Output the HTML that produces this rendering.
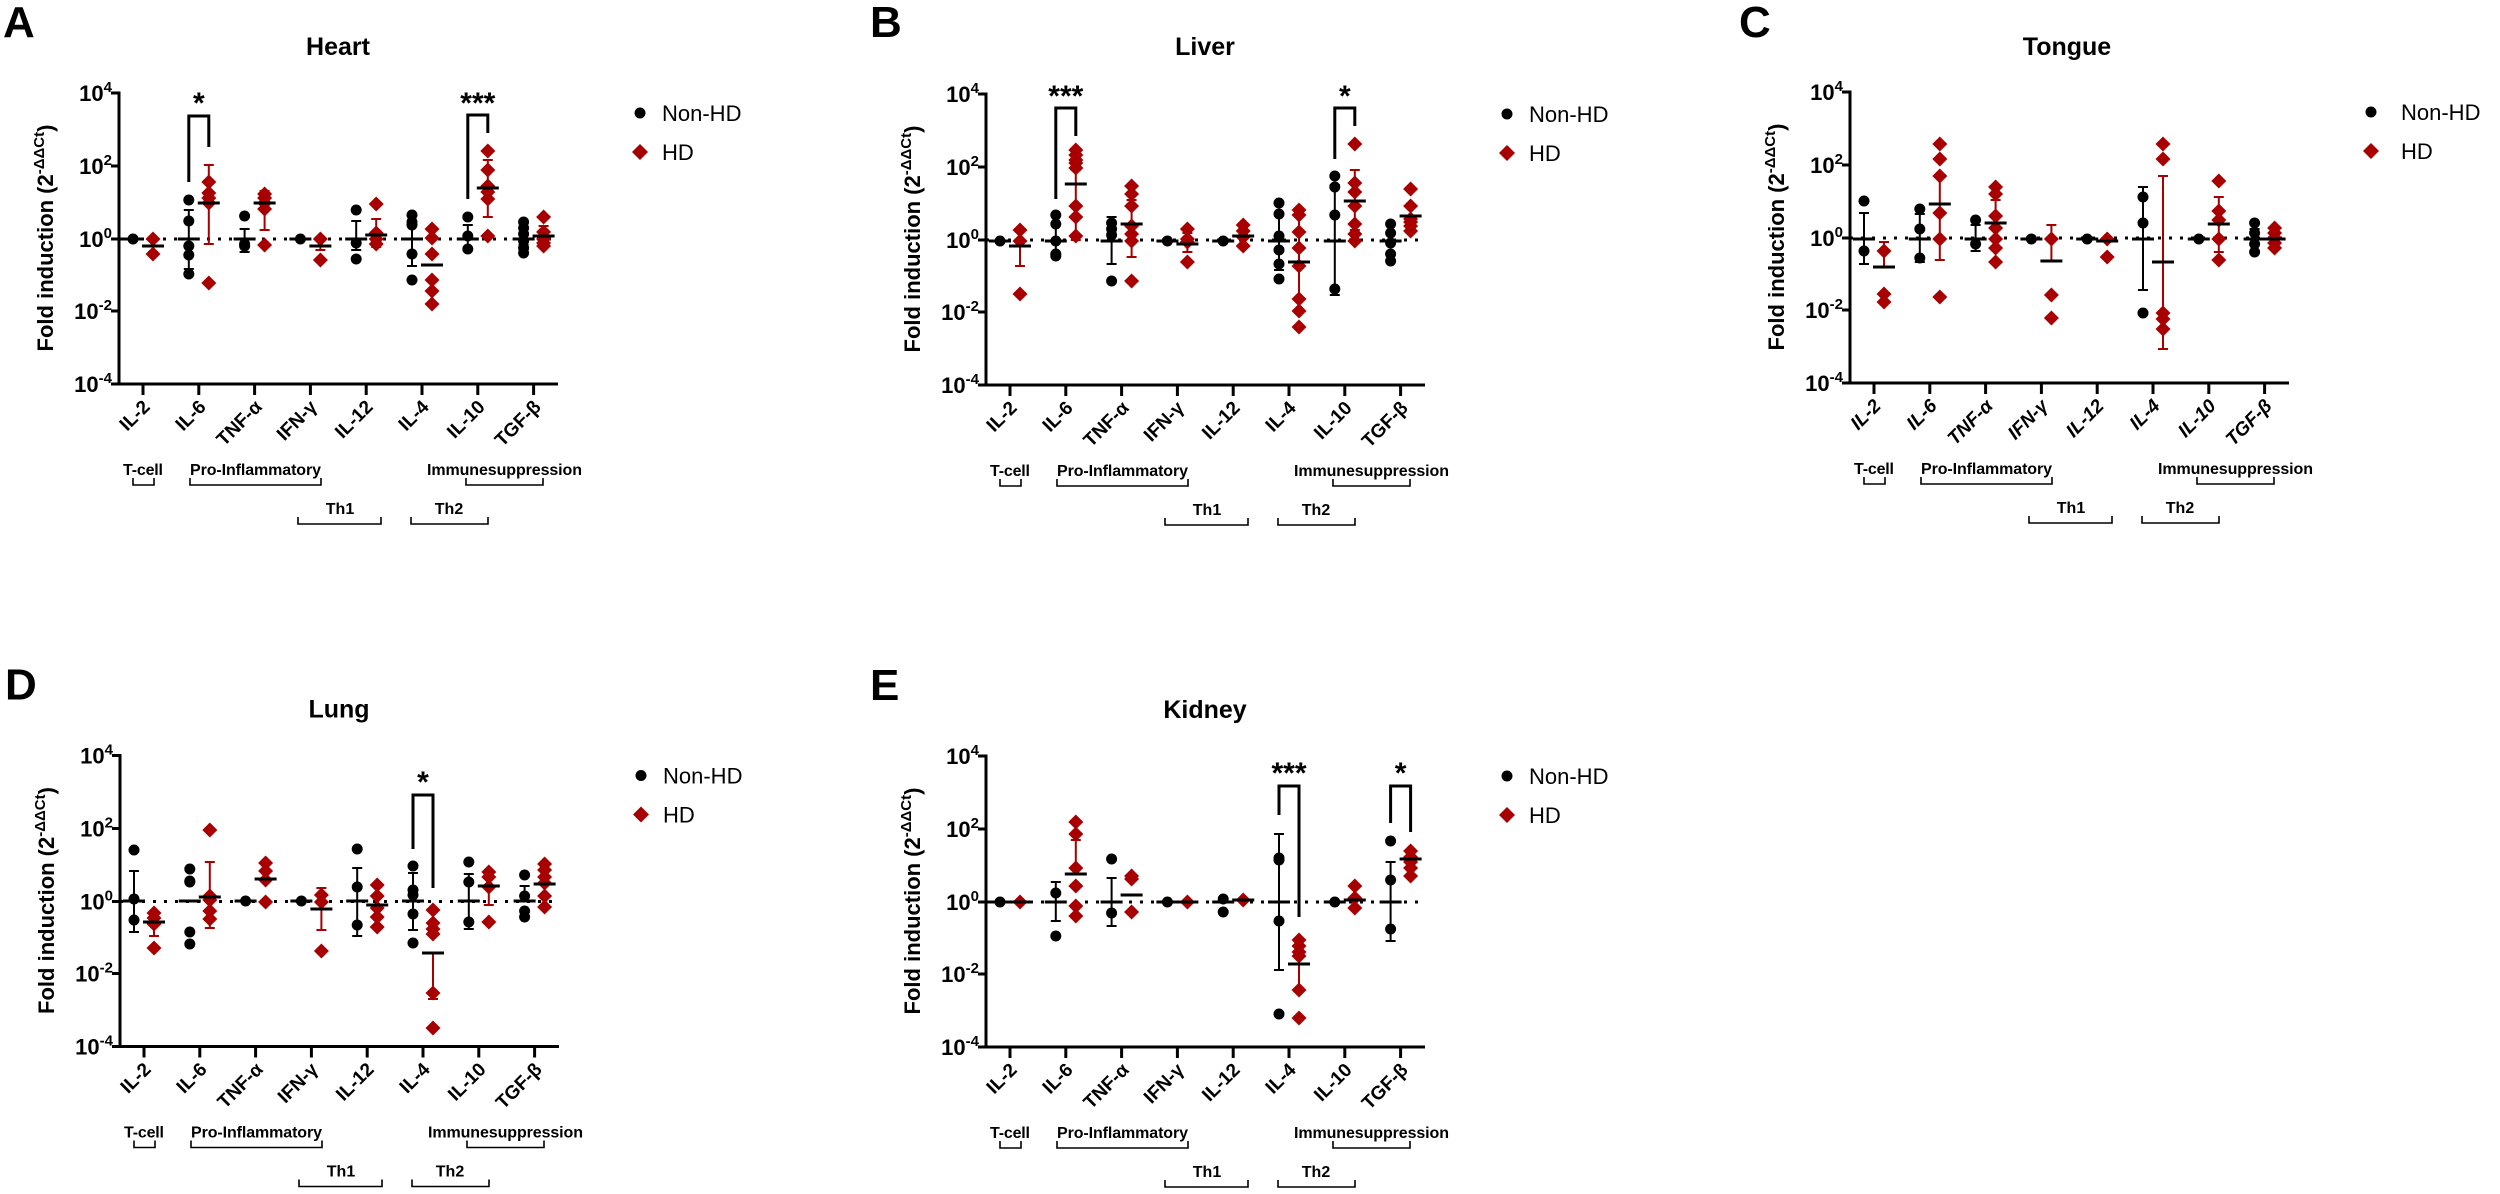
<!DOCTYPE html>
<html><head><meta charset="utf-8"><style>
html,body{margin:0;padding:0;background:#fff;}
svg{display:block;font-family:"Liberation Sans",Arial,sans-serif;}
.t{font-weight:bold;font-size:22px;}
.xl{font-weight:bold;font-size:19px;}
.g{font-weight:bold;font-size:16px;}
</style></head><body>
<svg id="s" width="2500" height="1194" viewBox="0 0 2500 1194" xmlns="http://www.w3.org/2000/svg">
<rect width="2500" height="1194" fill="#fff"/>

<g id="pA" transform="translate(0,0)">
<text x="3" y="37" font-size="44" font-weight="bold">A</text>
<text x="338" y="55" font-size="25" font-weight="bold" text-anchor="middle">Heart</text>
<text transform="translate(53,238) rotate(-90)" class="t" text-anchor="middle">Fold induction (2<tspan dy="-9" font-size="15">-ΔΔCt</tspan><tspan dy="9">)</tspan></text>
<text x="112" y="101" class="t" text-anchor="end">10<tspan dy="-9" font-size="15">4</tspan></text>
<text x="112" y="174" class="t" text-anchor="end">10<tspan dy="-9" font-size="15">2</tspan></text>
<text x="112" y="247" class="t" text-anchor="end">10<tspan dy="-9" font-size="15">0</tspan></text>
<text x="112" y="319" class="t" text-anchor="end">10<tspan dy="-9" font-size="15">-2</tspan></text>
<text x="112" y="392" class="t" text-anchor="end">10<tspan dy="-9" font-size="15">-4</tspan></text>
<text transform="translate(151,408) rotate(-45)" class="xl" text-anchor="end">IL-2</text>
<text transform="translate(207,408) rotate(-45)" class="xl" text-anchor="end">IL-6</text>
<text transform="translate(263,408) rotate(-45)" class="xl" text-anchor="end">TNF-α</text>
<text transform="translate(318,408) rotate(-45)" class="xl" text-anchor="end">IFN-γ</text>
<text transform="translate(374,408) rotate(-45)" class="xl" text-anchor="end">IL-12</text>
<text transform="translate(430,408) rotate(-45)" class="xl" text-anchor="end">IL-4</text>
<text transform="translate(486,408) rotate(-45)" class="xl" text-anchor="end">IL-10</text>
<text transform="translate(542,408) rotate(-45)" class="xl" text-anchor="end">TGF-β</text>
<text x="123" y="475" class="g" textLength="40">T-cell</text>
<text x="190" y="475" class="g" textLength="131">Pro-Inflammatory</text>
<text x="427" y="475" class="g" textLength="155">Immunesuppression</text>
<text x="340" y="514" class="g" text-anchor="middle">Th1</text>
<text x="449" y="514" class="g" text-anchor="middle">Th2</text>
<text x="662" y="121" font-size="22">Non-HD</text>
<text x="662" y="160" font-size="22">HD</text>
</g>

<g id="pB" transform="translate(867,1)">
<text x="3" y="36" font-size="44" font-weight="bold">B</text>
<text x="338" y="54" font-size="25" font-weight="bold" text-anchor="middle">Liver</text>
<text transform="translate(53,238) rotate(-90)" class="t" text-anchor="middle">Fold induction (2<tspan dy="-9" font-size="15">-ΔΔCt</tspan><tspan dy="9">)</tspan></text>
<text x="112" y="101" class="t" text-anchor="end">10<tspan dy="-9" font-size="15">4</tspan></text>
<text x="112" y="174" class="t" text-anchor="end">10<tspan dy="-9" font-size="15">2</tspan></text>
<text x="112" y="247" class="t" text-anchor="end">10<tspan dy="-9" font-size="15">0</tspan></text>
<text x="112" y="319" class="t" text-anchor="end">10<tspan dy="-9" font-size="15">-2</tspan></text>
<text x="112" y="392" class="t" text-anchor="end">10<tspan dy="-9" font-size="15">-4</tspan></text>
<text transform="translate(151,408) rotate(-45)" class="xl" text-anchor="end">IL-2</text>
<text transform="translate(207,408) rotate(-45)" class="xl" text-anchor="end">IL-6</text>
<text transform="translate(263,408) rotate(-45)" class="xl" text-anchor="end">TNF-α</text>
<text transform="translate(318,408) rotate(-45)" class="xl" text-anchor="end">IFN-γ</text>
<text transform="translate(374,408) rotate(-45)" class="xl" text-anchor="end">IL-12</text>
<text transform="translate(430,408) rotate(-45)" class="xl" text-anchor="end">IL-4</text>
<text transform="translate(486,408) rotate(-45)" class="xl" text-anchor="end">IL-10</text>
<text transform="translate(542,408) rotate(-45)" class="xl" text-anchor="end">TGF-β</text>
<text x="123" y="475" class="g" textLength="40">T-cell</text>
<text x="190" y="475" class="g" textLength="131">Pro-Inflammatory</text>
<text x="427" y="475" class="g" textLength="155">Immunesuppression</text>
<text x="340" y="514" class="g" text-anchor="middle">Th1</text>
<text x="449" y="514" class="g" text-anchor="middle">Th2</text>
<text x="662" y="121" font-size="22">Non-HD</text>
<text x="662" y="160" font-size="22">HD</text>
</g>

<g id="pC" transform="translate(1731,-1)">
<text x="8" y="38" font-size="44" font-weight="bold">C</text>
<text x="336" y="56" font-size="25" font-weight="bold" text-anchor="middle">Tongue</text>
<text transform="translate(53,238) rotate(-90)" class="t" text-anchor="middle">Fold induction (2<tspan dy="-9" font-size="15">-ΔΔCt</tspan><tspan dy="9">)</tspan></text>
<text x="112" y="101" class="t" text-anchor="end">10<tspan dy="-9" font-size="15">4</tspan></text>
<text x="112" y="174" class="t" text-anchor="end">10<tspan dy="-9" font-size="15">2</tspan></text>
<text x="112" y="247" class="t" text-anchor="end">10<tspan dy="-9" font-size="15">0</tspan></text>
<text x="112" y="319" class="t" text-anchor="end">10<tspan dy="-9" font-size="15">-2</tspan></text>
<text x="112" y="392" class="t" text-anchor="end">10<tspan dy="-9" font-size="15">-4</tspan></text>
<text transform="translate(151,408) rotate(-45)" class="xl" font-style="italic" text-anchor="end">IL-2</text>
<text transform="translate(207,408) rotate(-45)" class="xl" font-style="italic" text-anchor="end">IL-6</text>
<text transform="translate(263,408) rotate(-45)" class="xl" font-style="italic" text-anchor="end">TNF-α</text>
<text transform="translate(318,408) rotate(-45)" class="xl" font-style="italic" text-anchor="end">IFN-γ</text>
<text transform="translate(374,408) rotate(-45)" class="xl" font-style="italic" text-anchor="end">IL-12</text>
<text transform="translate(430,408) rotate(-45)" class="xl" font-style="italic" text-anchor="end">IL-4</text>
<text transform="translate(486,408) rotate(-45)" class="xl" font-style="italic" text-anchor="end">IL-10</text>
<text transform="translate(542,408) rotate(-45)" class="xl" font-style="italic" text-anchor="end">TGF-β</text>
<text x="123" y="475" class="g" textLength="40">T-cell</text>
<text x="190" y="475" class="g" textLength="131">Pro-Inflammatory</text>
<text x="427" y="475" class="g" textLength="155">Immunesuppression</text>
<text x="340" y="514" class="g" text-anchor="middle">Th1</text>
<text x="449" y="514" class="g" text-anchor="middle">Th2</text>
<text x="670" y="121" font-size="22">Non-HD</text>
<text x="670" y="160" font-size="22">HD</text>
</g>

<g id="pD" transform="translate(1,662.5)">
<text x="4" y="37" font-size="44" font-weight="bold">D</text>
<text x="338" y="55" font-size="25" font-weight="bold" text-anchor="middle">Lung</text>
<text transform="translate(53,238) rotate(-90)" class="t" text-anchor="middle">Fold induction (2<tspan dy="-9" font-size="15">-ΔΔCt</tspan><tspan dy="9">)</tspan></text>
<text x="112" y="101" class="t" text-anchor="end">10<tspan dy="-9" font-size="15">4</tspan></text>
<text x="112" y="174" class="t" text-anchor="end">10<tspan dy="-9" font-size="15">2</tspan></text>
<text x="112" y="247" class="t" text-anchor="end">10<tspan dy="-9" font-size="15">0</tspan></text>
<text x="112" y="319" class="t" text-anchor="end">10<tspan dy="-9" font-size="15">-2</tspan></text>
<text x="112" y="392" class="t" text-anchor="end">10<tspan dy="-9" font-size="15">-4</tspan></text>
<text transform="translate(151,408) rotate(-45)" class="xl" text-anchor="end">IL-2</text>
<text transform="translate(207,408) rotate(-45)" class="xl" text-anchor="end">IL-6</text>
<text transform="translate(263,408) rotate(-45)" class="xl" text-anchor="end">TNF-α</text>
<text transform="translate(318,408) rotate(-45)" class="xl" text-anchor="end">IFN-γ</text>
<text transform="translate(374,408) rotate(-45)" class="xl" text-anchor="end">IL-12</text>
<text transform="translate(430,408) rotate(-45)" class="xl" text-anchor="end">IL-4</text>
<text transform="translate(486,408) rotate(-45)" class="xl" text-anchor="end">IL-10</text>
<text transform="translate(542,408) rotate(-45)" class="xl" text-anchor="end">TGF-β</text>
<text x="123" y="475" class="g" textLength="40">T-cell</text>
<text x="190" y="475" class="g" textLength="131">Pro-Inflammatory</text>
<text x="427" y="475" class="g" textLength="155">Immunesuppression</text>
<text x="340" y="514" class="g" text-anchor="middle">Th1</text>
<text x="449" y="514" class="g" text-anchor="middle">Th2</text>
<text x="662" y="121" font-size="22">Non-HD</text>
<text x="662" y="160" font-size="22">HD</text>
</g>

<g id="pE" transform="translate(867,663)">
<text x="3" y="37" font-size="44" font-weight="bold">E</text>
<text x="338" y="55" font-size="25" font-weight="bold" text-anchor="middle">Kidney</text>
<text transform="translate(53,238) rotate(-90)" class="t" text-anchor="middle">Fold induction (2<tspan dy="-9" font-size="15">-ΔΔCt</tspan><tspan dy="9">)</tspan></text>
<text x="112" y="101" class="t" text-anchor="end">10<tspan dy="-9" font-size="15">4</tspan></text>
<text x="112" y="174" class="t" text-anchor="end">10<tspan dy="-9" font-size="15">2</tspan></text>
<text x="112" y="247" class="t" text-anchor="end">10<tspan dy="-9" font-size="15">0</tspan></text>
<text x="112" y="319" class="t" text-anchor="end">10<tspan dy="-9" font-size="15">-2</tspan></text>
<text x="112" y="392" class="t" text-anchor="end">10<tspan dy="-9" font-size="15">-4</tspan></text>
<text transform="translate(151,408) rotate(-45)" class="xl" text-anchor="end">IL-2</text>
<text transform="translate(207,408) rotate(-45)" class="xl" text-anchor="end">IL-6</text>
<text transform="translate(263,408) rotate(-45)" class="xl" text-anchor="end">TNF-α</text>
<text transform="translate(318,408) rotate(-45)" class="xl" text-anchor="end">IFN-γ</text>
<text transform="translate(374,408) rotate(-45)" class="xl" text-anchor="end">IL-12</text>
<text transform="translate(430,408) rotate(-45)" class="xl" text-anchor="end">IL-4</text>
<text transform="translate(486,408) rotate(-45)" class="xl" text-anchor="end">IL-10</text>
<text transform="translate(542,408) rotate(-45)" class="xl" text-anchor="end">TGF-β</text>
<text x="123" y="475" class="g" textLength="40">T-cell</text>
<text x="190" y="475" class="g" textLength="131">Pro-Inflammatory</text>
<text x="427" y="475" class="g" textLength="155">Immunesuppression</text>
<text x="340" y="514" class="g" text-anchor="middle">Th1</text>
<text x="449" y="514" class="g" text-anchor="middle">Th2</text>
<text x="662" y="121" font-size="22">Non-HD</text>
<text x="662" y="160" font-size="22">HD</text>
</g>
</svg>
<script>
(function(){
var NS="http://www.w3.org/2000/svg",RED="#a80000";
function el(g,n,a){var e=document.createElementNS(NS,n);for(var k in a)e.setAttribute(k,a[k]);g.insertBefore(e,g.firstChild);return e;}
function ln(g,x1,y1,x2,y2,c,w,extra){var a={x1:x1,y1:y1,x2:x2,y2:y2,stroke:c,"stroke-width":w};if(extra)for(var k in extra)a[k]=extra[k];return el(g,"line",a);}
function frame(g,legX){
  ln(g,119,91.5,119,385.5,"#000",3);
  ln(g,117.5,384,558,384,"#000",3);
  [93,166,239,311,384].forEach(function(y){ln(g,111,y,119,y,"#000",3);});
  for(var i=0;i<8;i++){var x=143+55.8*i;ln(g,x,384,x,395,"#000",3);}
  ln(g,119,239,558,239,"#000",3,{"stroke-dasharray":"3 8"});
  function br(x1,x2,y,h){el(g,"path",{d:"M"+x1+" "+(y-h)+"V"+y+"H"+x2+"V"+(y-h),fill:"none",stroke:"#000","stroke-width":1.6});}
  br(133,154,485,7);br(190,321,485,7);br(466,543,485,7);br(298,381,524,7);br(411,488,524,7);
  el(g,"circle",{cx:legX,cy:113,r:5.5,fill:"#000"});
  el(g,"path",{d:"M"+legX+" 144l8 8l-8 8l-8 -8z",fill:RED});
}
function draw(id,dy,data,brs,legX){
  var g=document.getElementById(id);
  var dg=document.createElementNS(NS,"g");g.appendChild(dg);
  data.forEach(function(d,i){
    var t=143+55.8*i,xb=t-10,xr=t+10;
    var b=d[0];
    if(b[2]!=null||b[3]!=null){var top=(b[2]!=null?b[2]:b[1])-dy,bot=(b[3]!=null?b[3]:b[1])-dy;
      var q=document.createElementNS(NS,"path");q.setAttribute("d","M"+xb+" "+top+"V"+bot+(b[2]!=null?"M"+(xb-5)+" "+top+"h10":"")+(b[3]!=null?"M"+(xb-5)+" "+bot+"h10":""));q.setAttribute("stroke","#000");q.setAttribute("stroke-width","2");q.setAttribute("fill","none");dg.appendChild(q);}
    var r=d[1];
    if(r[2]!=null||r[3]!=null){var top2=(r[2]!=null?r[2]:r[1])-dy,bot2=(r[3]!=null?r[3]:r[1])-dy;
      var q2=document.createElementNS(NS,"path");q2.setAttribute("d","M"+xr+" "+top2+"V"+bot2+(r[2]!=null?"M"+(xr-5)+" "+top2+"h10":"")+(r[3]!=null?"M"+(xr-5)+" "+bot2+"h10":""));q2.setAttribute("stroke",RED);q2.setAttribute("stroke-width","2");q2.setAttribute("fill","none");dg.appendChild(q2);}
    b[0].forEach(function(y){var c=document.createElementNS(NS,"circle");c.setAttribute("cx",xb);c.setAttribute("cy",y-dy);c.setAttribute("r",5.5);c.setAttribute("fill","#000");dg.appendChild(c);});
    r[0].forEach(function(y){var c=document.createElementNS(NS,"path");var yy=y-dy;c.setAttribute("d","M"+xr+" "+(yy-7.5)+"l7.5 7.5l-7.5 7.5l-7.5 -7.5z");c.setAttribute("fill",RED);dg.appendChild(c);});
    [[xb,b[1]],[xr,r[1]]].forEach(function(m){var l=document.createElementNS(NS,"line");l.setAttribute("x1",m[0]-11);l.setAttribute("x2",m[0]+11);l.setAttribute("y1",m[1]-dy);l.setAttribute("y2",m[1]-dy);l.setAttribute("stroke","#000");l.setAttribute("stroke-width","3");dg.appendChild(l);});
  });
  brs.forEach(function(s){var t=143+55.8*s[0],xl=t-10,xr=t+10;
    var p=document.createElementNS(NS,"path");p.setAttribute("d","M"+xl+" "+(s[2]-dy)+"V"+(s[1]-dy)+"H"+xr+"V"+(s[3]-dy));p.setAttribute("stroke","#000");p.setAttribute("stroke-width","3");p.setAttribute("fill","none");dg.appendChild(p);
    var tx=document.createElementNS(NS,"text");tx.setAttribute("x",t);tx.setAttribute("y",s[4]-dy+16);tx.setAttribute("text-anchor","middle");tx.setAttribute("font-size","30");tx.setAttribute("font-weight","bold");tx.textContent=s[5];dg.appendChild(tx);});
  frame(g,legX);
}
var N=null;
draw("pA",0,[
 [[[239],239,N,N],[[239,254],246,239,252]],
 [[[200,221,246,255,274],239,210,269],[[182,193,198,203,283],203,165,244]],
 [[[216,244,246],239,229,252],[[194,198,203,209,245],203,191,230]],
 [[[239],239,N,N],[[239,260],246,239,250]],
 [[[210,243,259],239,221,250],[[204,233,239,244],235,219,247]],
 [[[215,222,225,254,280],239,215,266],[[229,238,254,280,291,304],265,N,N]],
 [[[217,236,249],239,225,250],[[151,170,186,192,199,236],188,160,217]],
 [[[222,228,234,241,248,253],239,233,245],[[217,232,239,243,246],236,226,245]]
],[[1,116,182,147,97,"*"],[6,115,199,133,97,"***"]],640);
draw("pB",1,[
 [[[241],241,N,N],[[230,241,294],246,241,266]],
 [[[215,224,241,254,256],241,225,256],[[150,155,160,163,168,206,217,236],184,170,240]],
 [[[223,229,235,281],241,217,264],[[186,194,206,226,234,241,281],224,200,257]],
 [[[241],241,N,N],[[229,239,242,262],244,233,252]],
 [[[241],241,N,N],[[225,231,237,246],236,N,N]],
 [[[203,214,236,250,264,279],241,215,270],[[210,215,232,248,266,299,311,327],262,215,300]],
 [[[176,187,215,289],241,185,295],[[144,183,192,206,224,234,241],201,170,230]],
 [[[224,233,243,254,261],241,N,N],[[189,206,219,222,226,231],216,N,N]]
],[[1,108,199,136,90,"***"],[6,108,159,126,90,"*"]],640);
draw("pC",-1,[
 [[[201,251],239,213,264],[[251,294,302],267,242,N]],
 [[[209,229,258],239,214,262],[[144,159,176,213,239,297],204,177,260]],
 [[[220,244],239,225,251],[[187,194,216,228,239,248,262],223,200,240]],
 [[[239],239,N,N],[[239,295,318],261,225,N]],
 [[[239],239,N,N],[[239,257],241,N,N]],
 [[[197,223,313],239,187,290],[[144,159,313,319,329],262,176,349]],
 [[[239],239,N,N],[[181,211,220,239,260],224,197,252]],
 [[[223,233,244,252],239,229,N],[[228,233,238,243,248],239,N,N]]
],[],640);
draw("pD",662.5,[
 [[[850,899,920],901,871,932],[[913,918,924,948],922,N,936]],
 [[[869,881,882,932,944],901,N,N],[[830,896,900,911,919],897,862,928]],
 [[[901],901,N,N],[[863,871,880,902],879,N,N]],
 [[[901],901,N,N],[[895,902,951],909,888,930]],
 [[[849,887,925],901,868,936],[[885,896,908,917,927],905,N,N]],
 [[[866,890,895,914,943],901,873,930],[[910,923,929,934,993,1028],953,N,999]],
 [[[862,882,922],901,874,929],[[872,877,887,922],886,N,905]],
 [[[875,896,911,917],901,886,N],[[864,870,877,883,896,907],884,N,N]]
],[[5,795,849,888,776,"*"]],640);
draw("pE",663,[
 [[[902],902,N,N],[[902],902,N,N]],
 [[[893,936],902,882,921],[[822,834,868,886,906,916],874,840,N]],
 [[[859,913],902,878,926],[[876,879,912],895,N,N]],
 [[[902],902,N,N],[[902],902,N,N]],
 [[[899,912],902,N,N],[[900],900,N,N]],
 [[[858,860,921,1014],902,834,970],[[940,946,952,956,990,1018],964,N,989]],
 [[[902],902,N,N],[[886,898,908],900,N,N]],
 [[[841,880,929],902,862,941],[[851,857,862,868,876],859,N,N]]
],[[5,786,815,917,767,"***"],[7,786,823,832,767,"*"]],640);
})();
</script>
</body></html>
